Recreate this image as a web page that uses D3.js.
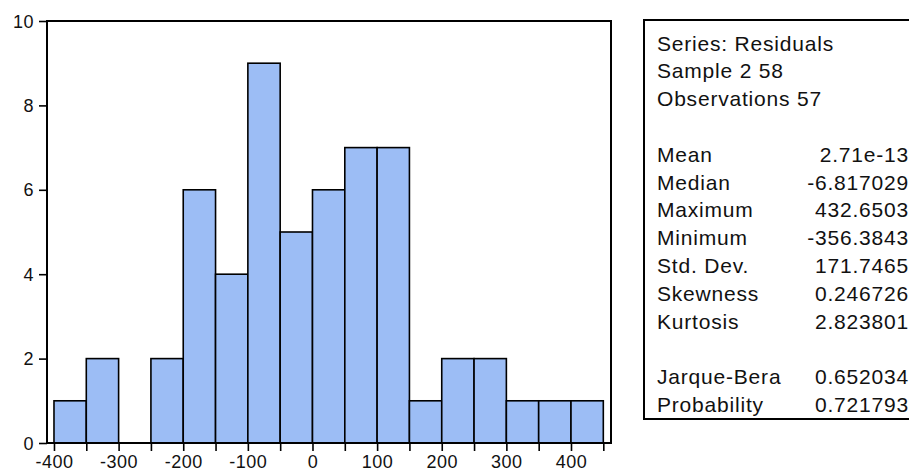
<!DOCTYPE html>
<html>
<head>
  <meta charset="utf-8">
  <title>Residuals histogram</title>
  <style>
    body { margin: 0; background: #fff; }
    svg { font-family: "Liberation Sans", Arial, sans-serif; }
    .bar { fill: #9cbdf5; stroke: #000; stroke-width: 1.6px; }
    .axis line { stroke: #000; stroke-width: 1.6px; }
    .axis text { font-size: 18px; fill: #111; letter-spacing: 0.5px; }
    .stats text { font-size: 21px; fill: #111; letter-spacing: 0.8px; }
  </style>
</head>
<body>
  <svg width="909" height="472"></svg>

  <script src="https://d3js.org/d3.v7.min.js"></script>
  <script>
    // histogram bins (lower edge) and counts, bin width 50
    var binStarts = [-400, -350, -300, -250, -200, -150, -100, -50, 0, 50, 100, 150, 200, 250, 300, 350, 400];
    var binCounts = [1, 2, 0, 2, 6, 4, 9, 5, 6, 7, 7, 1, 2, 2, 1, 1, 1];
    var binWidth = 50;

    var xTickLabels = [-400, -300, -200, -100, 0, 100, 200, 300, 400];
    var yTickLabels = [0, 2, 4, 6, 8, 10];

    var statHeader = ['Series: Residuals', 'Sample 2 58', 'Observations 57'];
    var statNames = ['Mean', 'Median', 'Maximum', 'Minimum', 'Std. Dev.', 'Skewness', 'Kurtosis'];
    var statValues = ['2.71e-13', '-6.817029', '432.6503', '-356.3843', '171.7465', '0.246726', '2.823801'];
    var testNames = ['Jarque-Bera', 'Probability'];
    var testValues = ['0.652034', '0.721793'];

    var svg = d3.select('svg');

    // plot frame (note: "top" is reserved on window, so use plot* names)
    var plotLeft = 47, plotRight = 611, plotTop = 21, plotBottom = 443;

    var x = d3.scaleLinear().domain([-410.8, 461.9]).range([plotLeft, plotRight]);
    var y = d3.scaleLinear().domain([0, 10]).range([plotBottom, plotTop]);

    // bars
    var bins = binStarts.map(function(s, i) { return { x0: s, x1: s + binWidth, n: binCounts[i] }; })
      .filter(function(d) { return d.n > 0; });

    svg.selectAll('rect.bar')
      .data(bins)
      .enter().append('rect')
      .attr('class', 'bar')
      .attr('x', function(d) { return x(d.x0); })
      .attr('width', function(d) { return x(d.x1) - x(d.x0); })
      .attr('y', function(d) { return y(d.n); })
      .attr('height', function(d) { return plotBottom - y(d.n); });

    svg.append('rect')
      .attr('x', plotLeft).attr('y', plotTop)
      .attr('width', plotRight - plotLeft).attr('height', plotBottom - plotTop)
      .attr('fill', 'none').attr('stroke', '#000').attr('stroke-width', 2);

    // x axis: ticks every 50, labels every 100
    var xTicks = binStarts.concat([450]);
    var xAxis = svg.append('g')
      .attr('class', 'axis')
      .attr('transform', 'translate(0,' + plotBottom + ')')
      .call(d3.axisBottom(x)
        .tickValues(xTicks)
        .tickSize(8)
        .tickSizeOuter(0)
        .tickFormat(function(d) { return xTickLabels.indexOf(d) >= 0 ? d : ''; }));
    xAxis.select('.domain').remove();
    xAxis.selectAll('text').attr('y', 25).attr('dy', 0);

    // y axis
    var yAxis = svg.append('g')
      .attr('class', 'axis')
      .attr('transform', 'translate(' + plotLeft + ',0)')
      .call(d3.axisLeft(y)
        .tickValues(yTickLabels)
        .tickSize(8)
        .tickSizeOuter(0));
    yAxis.select('.domain').remove();
    yAxis.selectAll('text').attr('x', -13).attr('dy', '0.34em');

    // statistics box
    var box = svg.append('g').attr('class', 'stats');
    box.append('rect')
      .attr('x', 644).attr('y', 20)
      .attr('width', 275).attr('height', 399)
      .attr('fill', '#fff').attr('stroke', '#000').attr('stroke-width', 2);

    var labelX = 657, valueX = 909, lineH = 27.8;
    function rowY(k) { return 50.5 + k * lineH; }

    box.selectAll('text.head')
      .data(statHeader)
      .enter().append('text')
      .attr('x', labelX)
      .attr('y', function(d, i) { return rowY(i); })
      .text(function(d) { return d; });

    box.selectAll('text.sname')
      .data(statNames)
      .enter().append('text')
      .attr('x', labelX)
      .attr('y', function(d, i) { return rowY(i + 4); })
      .text(function(d) { return d; });

    box.selectAll('text.sval')
      .data(statValues)
      .enter().append('text')
      .attr('x', valueX)
      .attr('text-anchor', 'end')
      .attr('y', function(d, i) { return rowY(i + 4); })
      .text(function(d) { return d; });

    box.selectAll('text.tname')
      .data(testNames)
      .enter().append('text')
      .attr('x', labelX)
      .attr('y', function(d, i) { return rowY(i + 12); })
      .text(function(d) { return d; });

    box.selectAll('text.tval')
      .data(testValues)
      .enter().append('text')
      .attr('x', valueX)
      .attr('text-anchor', 'end')
      .attr('y', function(d, i) { return rowY(i + 12); })
      .text(function(d) { return d; });
  </script>
</body>
</html>
